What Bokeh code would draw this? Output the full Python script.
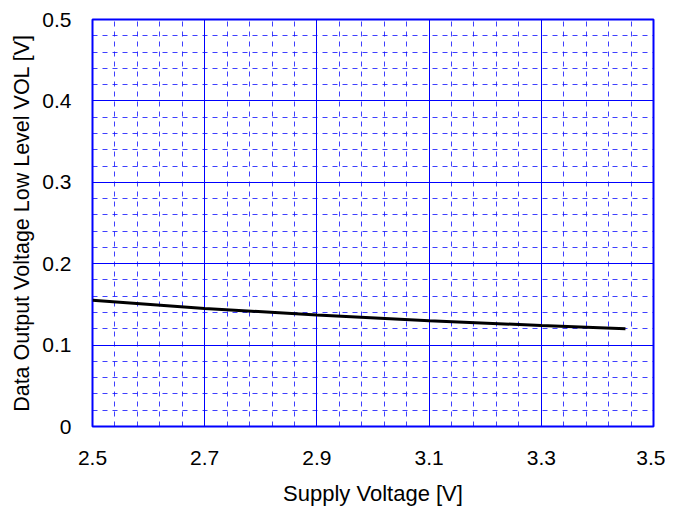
from bokeh.plotting import figure
from bokeh.models import FixedTicker, Range1d
from bokeh.embed import file_html
from bokeh.resources import INLINE

# Data
supply_voltage = [2.5, 2.7, 2.9, 3.1, 3.3, 3.45]
vol = [0.155, 0.145, 0.137, 0.130, 0.124, 0.120]

x_ticks = [2.5, 2.7, 2.9, 3.1, 3.3, 3.5]
x_minor = [2.54, 2.58, 2.62, 2.66, 2.74, 2.78, 2.82, 2.86, 2.94, 2.98, 3.02, 3.06,
           3.14, 3.18, 3.22, 3.26, 3.34, 3.38, 3.42, 3.46]
y_ticks = [0.0, 0.1, 0.2, 0.3, 0.4, 0.5]
y_minor = [0.02, 0.04, 0.06, 0.08, 0.12, 0.14, 0.16, 0.18, 0.22, 0.24, 0.26, 0.28,
           0.32, 0.34, 0.36, 0.38, 0.42, 0.44, 0.46, 0.48]
y_labels = {0.0: "0", 0.1: "0.1", 0.2: "0.2", 0.3: "0.3", 0.4: "0.4", 0.5: "0.5"}

FONT = "Liberation Sans"
FS = "21px"

p = figure(width=665, height=508, output_backend="svg", toolbar_location=None,
           x_range=Range1d(2.5, 3.5), y_range=Range1d(0, 0.5),
           min_border_left=92, min_border_top=19, min_border_right=12, min_border_bottom=70)
p.border_fill_color = "white"
p.background_fill_color = "white"

p.xaxis.ticker = FixedTicker(ticks=x_ticks, minor_ticks=x_minor)
p.yaxis.ticker = FixedTicker(ticks=y_ticks, minor_ticks=y_minor)
p.yaxis.major_label_overrides = y_labels

for ax in (p.xaxis, p.yaxis):
    ax.axis_line_color = None
    ax.major_tick_line_color = None
    ax.minor_tick_line_color = None
    ax.major_label_text_font = FONT
    ax.major_label_text_font_size = FS
    ax.major_label_text_color = "black"
    ax.axis_label_text_font = FONT
    ax.axis_label_text_font_style = "normal"
    ax.axis_label_text_color = "black"

p.xaxis.axis_label_text_font_size = "22px"
p.yaxis.axis_label_text_font_size = "21.5px"
p.xaxis.axis_label = "Supply Voltage [V]"
p.yaxis.axis_label = "Data Output Voltage Low Level VOL [V]"
p.xaxis.major_label_standoff = 18
p.xaxis.axis_label_standoff = 13
p.yaxis.major_label_standoff = 15
p.yaxis.axis_label_standoff = 5

for g in (p.xgrid, p.ygrid):
    g.grid_line_color = "blue"
    g.grid_line_width = 1
    g.grid_line_alpha = 1.0
    g.minor_grid_line_color = "blue"
    g.minor_grid_line_alpha = 0.75
    g.minor_grid_line_dash = "5 5"
    g.minor_grid_line_width = 1

p.outline_line_color = "blue"
p.outline_line_width = 2
p.outline_line_alpha = 1.0

p.line(supply_voltage, vol, line_color="black", line_width=3)

open("out.html", "w").write(file_html(p, INLINE))
